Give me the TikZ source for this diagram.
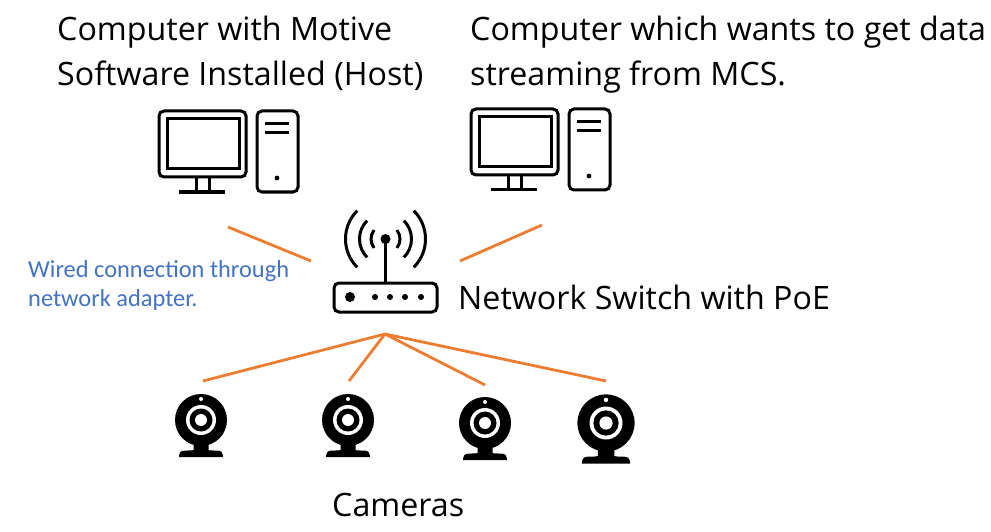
\documentclass[tikz,border=0pt]{standalone}
\usepackage{fontspec}
\setmainfont{Carlito}
\newfontfamily\labelfont{Open Sans}
\definecolor{linkorange}{HTML}{ED7D31}
\definecolor{noteblue}{HTML}{4472C4}
\tikzset{
	bigtext/.style={inner sep=0pt, align=left, font=\labelfont\fontsize{32.2}{45}\selectfont},
	notetext/.style={inner sep=0pt, align=left, text=noteblue, font=\fontsize{24.4}{29}\selectfont},
	link/.style={draw=linkorange, line width=2.8pt},
	icon/.style={draw=black, line width=3pt},
	computer/.pic={
		\draw[icon, rounded corners=5pt] (159,111) rectangle (246,177);
		\draw[icon] (167,119) rectangle (239,169);
		\draw[icon] (196,177) -- (196,191);
		\draw[icon] (209,177) -- (209,191);
		\draw[icon] (179,192) -- (225,192);
		\draw[icon, rounded corners=5pt] (257,111) rectangle (298,192);
		\draw[icon] (265,124) -- (289,124);
		\draw[icon] (265,133) -- (289,133);
		\fill (277,178) circle (2.4);
	},
	webcam/.pic={
		\fill (0,0) circle (26);
		\fill[white] (0,0) circle (15);
		\fill (0,0) circle (11.5);
		\fill[white] (0,0) circle (6);
		\fill[white] (0,-21) circle (2);
		\fill (-7.5,20) -- (7.5,20) -- (7.5,30) .. controls (9,31) and (16,30) .. (19,31) .. controls (22,32) and (22,37) .. (22,37) -- (-22,37) .. controls (-22,37) and (-22,32) .. (-19,31) .. controls (-16,30) and (-9,31) .. (-7.5,30) -- cycle;
	}
}
\begin{document}
\begin{tikzpicture}[x=1pt,y=-1pt]
	\useasboundingbox (0,0) rectangle (991,532);
	
	% Computers
	\pic (hostpc) at (0,0) {computer};
	\pic (clientpc) at (312,-2) {computer};
	
	% Switch
	\draw[icon, rounded corners=5pt] (334,283) rectangle (437,312);
	\draw[icon] (385.5,283) -- (385.5,239);
	\fill (385.5,239) circle (5);
	\fill (350,297) circle (5);
	\foreach \dotx in {375,390,405,421}
		\fill (\dotx,297) circle (3);
	\foreach \arcr/\arcb in {14.5/38,26/45,40/45} {
		\draw[icon] (385.5,239) ++(-\arcb:\arcr) arc[start angle=-\arcb, end angle=\arcb, radius=\arcr];
		\draw[icon] (385.5,239) ++(180-\arcb:\arcr) arc[start angle=180-\arcb, end angle=180+\arcb, radius=\arcr];
	}
	
	% Cameras
	\pic (cama) at (201,420) {webcam};
	\pic (camb) at (348,420) {webcam};
	\pic (camc) at (485,423) {webcam};
	\pic[scale=1.1] (camd) at (606,423) {webcam};
	
	% Link ends
	\coordinate (hostend) at (228,227);
	\coordinate (switchleft) at (311,261);
	\coordinate (switchright) at (460,261);
	\coordinate (clientend) at (542,225);
	\coordinate (switchbase) at (385,334);
	\coordinate (camatop) at (203,381);
	\coordinate (cambtop) at (349,381);
	\coordinate (camctop) at (485,385);
	\coordinate (camdtop) at (606,381);
	
	\draw[link] (hostend) -- (switchleft);
	\draw[link] (switchright) -- (clientend);
	\foreach \camtop in {camatop,cambtop,camctop,camdtop}
		\draw[link] (switchbase) -- (\camtop);
	
	% Labels
	\node [bigtext, anchor=base west] (hostlabel) at (57,40.5) {Computer with Motive};
	\node [bigtext, anchor=base west] (hostlabelb) at (57,85.5) {Software Installed (Host)};
	\node [bigtext, anchor=base west] (clientlabel) at (470,40.5) {Computer which wants to get data};
	\node [bigtext, anchor=base west] (clientlabelb) at (470,85.5) {streaming from MCS.};
	\node [bigtext, anchor=base west] (switchlabel) at (458,309) {Network Switch with PoE};
	\node [bigtext, anchor=base west] (camlabel) at (332,516) {Cameras};
	\node [notetext, anchor=base west] (wirenote) at (28,277) {Wired connection through};
	\node [notetext, anchor=base west] (wirenoteb) at (28,306) {network adapter.};
\end{tikzpicture}
\end{document}
